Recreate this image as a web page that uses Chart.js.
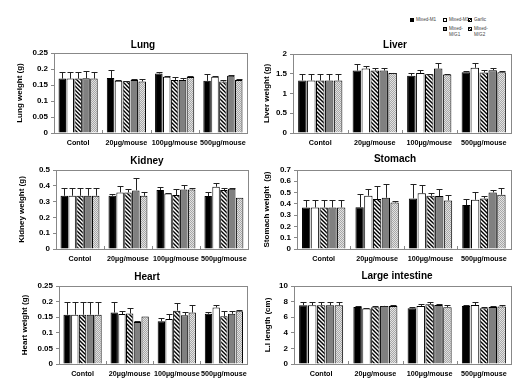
<!DOCTYPE html>
<html>
<head>
<meta charset="utf-8">
<script src="https://cdn.jsdelivr.net/npm/chart.js@4"></script>
<style>
  html, body { margin: 0; padding: 0; background: #fff; overflow: hidden; }
  body { width: 521px; height: 384px; position: relative; font-family: "Liberation Sans", Arial, sans-serif; }
  canvas { position: absolute; }
  .legend { position: absolute; left: 0; top: 0; font-size: 4.6px; color: #444; line-height: 6px; }
  .legend .item { position: absolute; white-space: nowrap; }
  .legend .sw { position: absolute; width: 4px; height: 4px; border: 1px solid #000; box-sizing: border-box; }
</style>
</head>
<body>
<div class="legend" id="legend"></div>
<canvas id="lung"></canvas>
<canvas id="liver"></canvas>
<canvas id="kidney"></canvas>
<canvas id="stomach"></canvas>
<canvas id="heart"></canvas>
<canvas id="intestine"></canvas>
<script>
// categories and series
const groups = ['Contol', '20µg/mouse', '100µg/mouse', '500µg/mouse']
const seriesNames = ['Mixed-M1', 'Mixed-M1', 'Garlic', 'Mixed-M/G1', 'Mixed-M/G2']

// one row per series (black, white, hatched, grey, light grey), values per group
const lungMean = [
  [0.170, 0.172, 0.186, 0.163],
  [0.170, 0.163, 0.176, 0.176],
  [0.170, 0.162, 0.166, 0.161],
  [0.171, 0.166, 0.166, 0.179],
  [0.170, 0.161, 0.175, 0.166]
]
const lungErr = [
  [0.022, 0.025, 0.005, 0.021],
  [0.022, 0.003, 0.002, 0.002],
  [0.022, 0.002, 0.009, 0.006],
  [0.022, 0.002, 0.007, 0.002],
  [0.022, 0.008, 0.002, 0.002]
]

const liverMean = [
  [1.33, 1.58, 1.45, 1.54],
  [1.33, 1.63, 1.52, 1.65],
  [1.33, 1.58, 1.49, 1.53],
  [1.33, 1.58, 1.63, 1.59],
  [1.33, 1.52, 1.48, 1.54]
]
const liverErr = [
  [0.16, 0.17, 0.07, 0.04],
  [0.16, 0.06, 0.07, 0.11],
  [0.16, 0.07, 0.01, 0.07],
  [0.16, 0.07, 0.13, 0.05],
  [0.16, 0.01, 0.02, 0.02]
]

const kidneyMean = [
  [0.337, 0.337, 0.373, 0.335],
  [0.337, 0.358, 0.352, 0.394],
  [0.337, 0.358, 0.341, 0.373],
  [0.337, 0.371, 0.377, 0.381],
  [0.337, 0.337, 0.377, 0.324]
]
const kidneyErr = [
  [0.051, 0.008, 0.021, 0.025],
  [0.051, 0.042, 0.002, 0.026],
  [0.051, 0.023, 0.038, 0.015],
  [0.051, 0.076, 0.026, 0.002],
  [0.051, 0.023, 0.006, 0]
]

const stomachMean = [
  [0.368, 0.371, 0.448, 0.389],
  [0.368, 0.472, 0.493, 0.436],
  [0.368, 0.442, 0.472, 0.448],
  [0.368, 0.454, 0.469, 0.501],
  [0.368, 0.412, 0.430, 0.481]
]
const stomachErr = [
  [0.062, 0.116, 0.125, 0.053],
  [0.062, 0.056, 0.074, 0.071],
  [0.062, 0.113, 0.028, 0.021],
  [0.062, 0.126, 0.065, 0.018],
  [0.062, 0.015, 0.048, 0.056]
]

const heartMean = [
  [0.158, 0.165, 0.137, 0.161],
  [0.158, 0.160, 0.144, 0.181],
  [0.158, 0.162, 0.171, 0.153],
  [0.158, 0.135, 0.156, 0.161],
  [0.158, 0.152, 0.165, 0.169]
]
const heartErr = [
  [0.042, 0.035, 0.012, 0.006],
  [0.042, 0.011, 0.016, 0.009],
  [0.042, 0.016, 0.023, 0.017],
  [0.042, 0.003, 0.011, 0.009],
  [0.042, 0, 0.025, 0.005]
]

const intestineMean = [
  [7.53, 7.32, 7.15, 7.45],
  [7.53, 7.10, 7.45, 7.57],
  [7.53, 7.28, 7.66, 7.15],
  [7.53, 7.45, 7.57, 7.32],
  [7.53, 7.45, 7.28, 7.36]
]
const intestineErr = [
  [0.37, 0.08, 0.15, 0.15],
  [0.37, 0.10, 0.30, 0.43],
  [0.37, 0.17, 0.34, 0.10],
  [0.37, 0.05, 0.08, 0.08],
  [0.37, 0.15, 0.32, 0.24]
]

// fills for the five series
function hatchPattern() {
  const c = document.createElement('canvas')
  c.width = 4; c.height = 4
  const g = c.getContext('2d')
  g.fillStyle = '#fff'
  g.fillRect(0, 0, 4, 4)
  g.strokeStyle = '#000'
  g.lineWidth = 1.4
  g.beginPath()
  g.moveTo(-1, -1); g.lineTo(5, 5)
  g.moveTo(-1, 3); g.lineTo(1, 5)
  g.moveTo(3, -1); g.lineTo(5, 1)
  g.stroke()
  return g.createPattern(c, 'repeat')
}
function dotPattern() {
  const c = document.createElement('canvas')
  c.width = 2; c.height = 2
  const g = c.getContext('2d')
  g.fillStyle = '#e2e2e2'
  g.fillRect(0, 0, 2, 2)
  g.fillStyle = '#a8a8a8'
  g.fillRect(0, 0, 1, 1)
  g.fillRect(1, 1, 1, 1)
  return g.createPattern(c, 'repeat')
}
const fills = ['#000', '#fff', hatchPattern(), '#808080', dotPattern()]

// upward error bars
const errorBars = {
  id: 'errorBars',
  afterDatasetsDraw(chart) {
    const ctx = chart.ctx
    const y = chart.scales.y
    chart.data.datasets.forEach((ds, i) => {
      chart.getDatasetMeta(i).data.forEach((bar, j) => {
        const e = ds.errors[j]
        if (!e) return
        const top = y.getPixelForValue(ds.data[j] + e)
        const bx = Math.round(bar.x) + 0.5
        const ty = Math.round(top) + 0.5
        ctx.save()
        ctx.strokeStyle = '#222'
        ctx.lineWidth = 1
        ctx.beginPath()
        ctx.moveTo(bx, bar.y)
        ctx.lineTo(bx, ty)
        ctx.moveTo(bx - 3, ty)
        ctx.lineTo(bx + 3, ty)
        ctx.stroke()
        ctx.restore()
      })
    })
  }
}

// frame around the plot area and small marks between groups
const frame = {
  id: 'frame',
  afterDraw(chart) {
    const {ctx, chartArea: a} = chart
    const x = chart.scales.x
    ctx.save()
    ctx.strokeStyle = '#888'
    ctx.lineWidth = 1
    ctx.strokeRect(Math.round(a.left) + 0.5, Math.round(a.top) + 0.5,
      Math.round(a.right - a.left), Math.round(a.bottom - a.top))
    ctx.beginPath()
    for (let i = 1; i < groups.length; i++) {
      const px = Math.round((x.getPixelForTick(i - 1) + x.getPixelForTick(i)) / 2) + 0.5
      ctx.moveTo(px, a.bottom)
      ctx.lineTo(px, a.bottom - 3)
    }
    ctx.stroke()
    ctx.restore()
  }
}

// the panel titles sit a little right of the centre of their boxes
const titleShift = {
  id: 'titleShift',
  afterLayout(chart, args, opts) {
    chart.titleBlock.left += opts.dx
    chart.titleBlock.right += opts.dx
  }
}

function makeChart(id, box, title, yTitle, yMax, yStep, means, errs) {
  const canvas = document.getElementById(id)
  canvas.width = box.w
  canvas.height = box.h
  canvas.style.left = box.x + 'px'
  canvas.style.top = box.y + 'px'
  return new Chart(canvas, {
    type: 'bar',
    data: {
      labels: groups,
      datasets: seriesNames.map((name, i) => ({
        label: name,
        data: means[i],
        errors: errs[i],
        backgroundColor: fills[i],
        borderColor: '#000',
        borderWidth: 1,
        categoryPercentage: 0.82,
        barPercentage: 0.95
      }))
    },
    options: {
      responsive: false,
      animation: false,
      layout: { padding: { left: 0, right: 2, top: 0, bottom: 0 } },
      plugins: {
        legend: { display: false },
        tooltip: { enabled: false },
        titleShift: { dx: box.dx },
        title: {
          display: true,
          text: title,
          color: '#000',
          font: { family: 'Liberation Sans', size: 10, weight: 'bold', lineHeight: 1.2 },
          padding: { top: box.tTop, bottom: box.tBottom }
        }
      },
      scales: {
        x: {
          grid: { display: false, drawTicks: false },
          border: { display: false },
          ticks: { color: '#000', padding: 6, maxRotation: 0, autoSkip: false,
            font: { family: 'Liberation Sans', size: 7.2, weight: 'bold' } },
          afterFit: s => { s.height = box.xh }
        },
        y: {
          min: 0,
          max: yMax,
          ticks: { stepSize: yStep, color: '#000', padding: 3, autoSkip: false,
            callback: v => String(+v.toFixed(2)),
            font: { family: 'Liberation Sans', size: 8, weight: 'bold' } },
          grid: { drawOnChartArea: false, tickLength: 3, color: '#888' },
          border: { display: false },
          title: {
            display: true,
            text: yTitle,
            color: '#000',
            font: { family: 'Liberation Sans', size: 8, weight: 'bold', lineHeight: 1.2 },
            padding: { top: box.yPad, bottom: 0 }
          },
          afterFit: s => { s.width = box.yw }
        }
      }
    },
    plugins: [errorBars, frame, titleShift]
  })
}

makeChart('lung', { x: 0, y: 35, w: 252, h: 115, dx: 18, yw: 54, yPad: 15, xh: 17, tTop: 4, tBottom: 2 },
  'Lung', 'Lung weight (g)', 0.25, 0.05, lungMean, lungErr)
makeChart('liver', { x: 260, y: 35, w: 253, h: 115, dx: 9.5, yw: 33, yPad: 2, xh: 17, tTop: 4, tBottom: 3 },
  'Liver', 'Liver weight (g)', 2, 0.5, liverMean, liverErr)
makeChart('kidney', { x: 0, y: 150, w: 253, h: 115, dx: 21.5, yw: 56, yPad: 17, xh: 16, tTop: 5, tBottom: 3 },
  'Kidney', 'Kidney weight (g)', 0.5, 0.1, kidneyMean, kidneyErr)
makeChart('stomach', { x: 260, y: 150, w: 253, h: 115, dx: 9.5, yw: 37, yPad: 2, xh: 16, tTop: 3, tBottom: 5 },
  'Stomach', 'Stomach weight  (g)', 0.7, 0.1, stomachMean, stomachErr)
makeChart('heart', { x: 0, y: 265, w: 253, h: 119, dx: 21.5, yw: 59, yPad: 20, xh: 20, tTop: 6, tBottom: 3 },
  'Heart', 'Heart weight (g)', 0.25, 0.05, heartMean, heartErr)
makeChart('intestine', { x: 260, y: 265, w: 253, h: 119, dx: 11.5, yw: 34, yPad: 3, xh: 20, tTop: 5, tBottom: 4 },
  'Large intestine', 'L.I length (cm)', 10, 2, intestineMean, intestineErr)

// legend in the top right corner
const legendSpots = [
  { x: 410, y: 18 }, { x: 443, y: 18 }, { x: 468, y: 18 },
  { x: 443, y: 27 }, { x: 468, y: 27 }
]
const crossSvg = "url(\"data:image/svg+xml,%3Csvg xmlns='http://www.w3.org/2000/svg' width='4' height='4'%3E%3Cpath d='M0 0L4 4M4 0L0 4' stroke='%23000' stroke-width='0.8'/%3E%3C/svg%3E\")"
const legendCss = [
  'background:#000',
  'background:#fff',
  'background:repeating-linear-gradient(45deg,#000 0 1px,#fff 1px 2px)',
  'background:#808080',
  'background:#fff ' + crossSvg
]
const legendText = ['Mixed-M1', 'Mixed-M1', 'Garlic', 'Mixed-<br>M/G1', 'Mixed-<br>M/G2']
const legend = document.getElementById('legend')
legendSpots.forEach((p, i) => {
  const sw = document.createElement('div')
  sw.className = 'sw'
  sw.style.cssText = 'left:' + p.x + 'px;top:' + p.y + 'px;' + legendCss[i]
  legend.appendChild(sw)
  const t = document.createElement('div')
  t.className = 'item'
  t.style.left = (p.x + 6) + 'px'
  t.style.top = (p.y - 1) + 'px'
  t.innerHTML = legendText[i]
  legend.appendChild(t)
})
</script>
</body>
</html>
